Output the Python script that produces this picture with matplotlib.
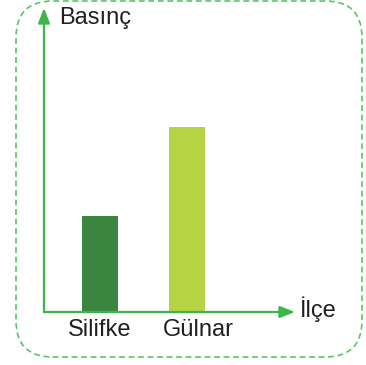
import matplotlib

matplotlib.use("Agg")
import matplotlib.pyplot as plt
from matplotlib.patches import FancyBboxPatch

districts = ["Silifke", "Gülnar"]
pressure = [2.6, 5.0]
bar_colors = ["#3a8540", "#b5d444"]

axis_green = "#3cb54a"
border_green = "#5cc467"
text_color = "#231f20"

plt.rcParams["font.family"] = ["Liberation Sans", "DejaVu Sans"]

W, H = 366, 365
fig = plt.figure(figsize=(W / 100, H / 100), dpi=100)

# dashed rounded frame
frame = FancyBboxPatch(
    (16 / W, 8 / H), 346 / W, 356 / H,
    boxstyle="round,pad=0,rounding_size=0.1",
    transform=fig.transFigure, fill=False,
    edgecolor=border_green, linewidth=1.2, linestyle=(0, (3.5, 2.2)),
    mutation_aspect=H / W,
)
fig.patches.append(frame)

# axes: origin at (44, 312) px
ax = fig.add_axes([44 / W, (H - 312) / H, 251 / W, 304 / H])
ax.set_xlim(-0.644, 2.241)
ax.set_ylim(0, 8.22)
pos = list(range(len(districts)))
ax.bar(pos, pressure, width=0.414, color=bar_colors, zorder=1)
# the second label sits a bit right of its bar in the original
ax.set_xticks([p + 0.13 * p for p in pos])
ax.set_xticklabels(districts, fontsize=17, color=text_color)
ax.tick_params(axis="x", length=0, pad=5)
ax.set_yticks([])
for s in ax.spines.values():
    s.set_visible(False)
ax.patch.set_visible(False)

arrow = dict(arrowstyle="-|>,head_length=0.9,head_width=0.35", color=axis_green,
             lw=1.6, shrinkA=0, shrinkB=0)
ax.annotate("", xy=(1, 0), xytext=(0, 0), xycoords="axes fraction", arrowprops=arrow)
ax.annotate("", xy=(0, 1), xytext=(0, 0), xycoords="axes fraction", arrowprops=arrow)

fig.text(59 / W, 1 - 18 / H, "Basınç", fontsize=17, color=text_color, va="center", ha="left")
fig.text(300 / W, 1 - 309 / H, "İlçe", fontsize=17, color=text_color, va="center", ha="left")

fig.savefig("out.png", dpi=100)
